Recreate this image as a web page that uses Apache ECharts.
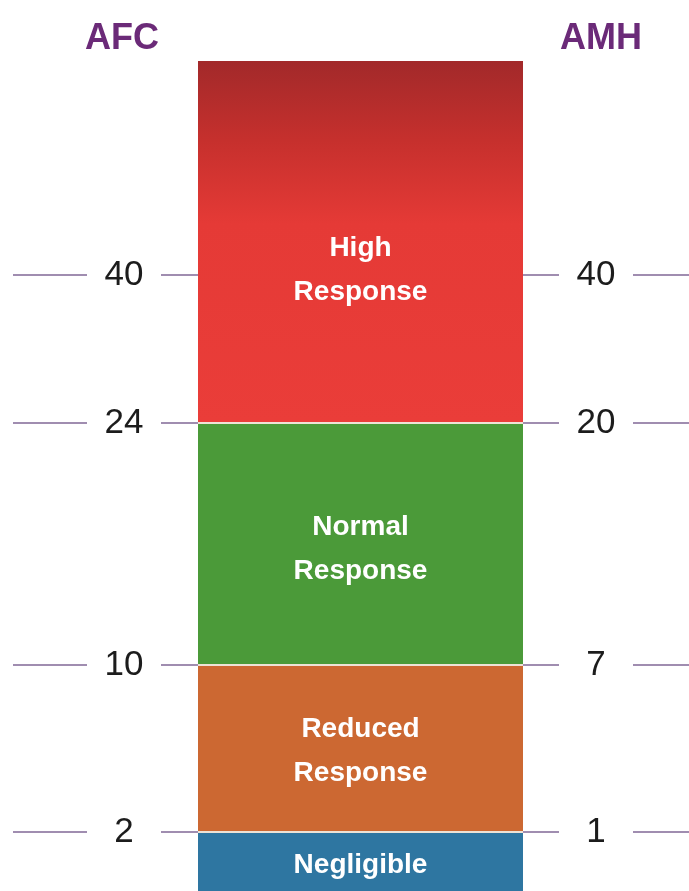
<!DOCTYPE html>
<html>
<head>
<meta charset="utf-8">
<style>
  html, body { margin: 0; padding: 0; background: #ffffff; }
  #chart { width: 689px; height: 891px; }
</style>
<script src="https://cdn.jsdelivr.net/npm/echarts@6/dist/echarts.min.js"></script>
</head>
<body>
<div id="chart"></div>
<script>
// Response bands, bottom to top (relative height on a 0-100 scale)
const bandNames = ['Negligible', 'Reduced\nResponse', 'Normal\nResponse', 'High\nResponse'];
const bandHeights = [7.1, 20.1, 29.2, 43.6];
const bandColors = ['#2e76a1', '#cc6832', '#4b9a39', '#e83b37'];

// Cut-off markers: AFC (left scale) and AMH (right scale), bottom to top
const afcLabels = ['2', '10', '24', '40'];
const amhLabels = ['1', '7', '20', '40'];
// Position of the upper "40" marker on the band scale
const upperMarkerPos = 74.2;

// Marker positions: the three band boundaries plus the upper marker
const boundaries = [];
let acc = 0;
for (let i = 0; i < bandHeights.length - 1; i++) {
  acc += bandHeights[i];
  boundaries.push(Math.round(acc * 100) / 100);
}
const markerPos = boundaries.concat([upperMarkerPos]);

const tickColor = '#a08db0';
const numberFont = "'Liberation Sans', Arial, sans-serif";

function markerAxis(side, labels, tickLen, margin) {
  return {
    type: 'value',
    position: side,
    min: 0,
    max: 100,
    axisLine: { show: false },
    splitLine: { show: false },
    axisTick: {
      show: true,
      customValues: markerPos,
      length: tickLen,
      lineStyle: { color: tickColor, width: 2 }
    },
    axisLabel: {
      show: true,
      customValues: markerPos,
      margin: margin,
      align: 'center',
      verticalAlign: 'middle',
      width: 46,
      padding: [2, 14],
      backgroundColor: '#ffffff',
      color: '#1c1c1c',
      fontSize: 35,
      fontFamily: numberFont,
      formatter: function (v) {
        const i = markerPos.findIndex(p => Math.abs(p - v) < 1e-6);
        return i >= 0 ? labels[i] : '';
      }
    }
  };
}

// Per-band label offsets (px) inside the bar
const labelOffsets = [[0, 4], [0, 3], [0, 5], [0, 28]];

const series = bandNames.map((name, i) => {
  let color = bandColors[i];
  if (i === bandNames.length - 1) {
    color = new echarts.graphic.LinearGradient(0, 0, 0, 1, [
      { offset: 0, color: '#a2292a' },
      { offset: 0.22, color: '#c6302d' },
      { offset: 0.45, color: '#e53a36' },
      { offset: 1, color: '#ea3d39' }
    ]);
  }
  const s = {
    name: name,
    type: 'bar',
    stack: 'bands',
    barWidth: '100%',
    data: [bandHeights[i]],
    itemStyle: { color: color },
    label: {
      show: true,
      position: 'inside',
      offset: labelOffsets[i],
      formatter: name,
      color: '#ffffff',
      fontSize: 28,
      fontWeight: 'bold',
      lineHeight: 44,
      fontFamily: numberFont
    },
    emphasis: { disabled: true },
    animation: false
  };
  // Thin light separators between stacked bands
  if (i === bandNames.length - 1) {
    s.markLine = {
      silent: true,
      symbol: 'none',
      label: { show: false },
      lineStyle: { color: '#eee3d6', width: 2, type: 'solid' },
      data: boundaries.map(b => ({ yAxis: b })),
      animation: false
    };
  }
  return s;
});

const chart = echarts.init(document.getElementById('chart'), null, { renderer: 'canvas' });
chart.setOption({
  animation: false,
  backgroundColor: '#ffffff',
  title: [
    {
      text: 'AFC', left: 117, top: 16, textAlign: 'center',
      textStyle: { color: '#6b2a78', fontSize: 36, fontWeight: 'bold', fontFamily: numberFont }
    },
    {
      text: 'AMH', left: 596, top: 16, textAlign: 'center',
      textStyle: { color: '#6b2a78', fontSize: 36, fontWeight: 'bold', fontFamily: numberFont }
    }
  ],
  grid: { left: 198, right: 166, top: 61, bottom: 0, containLabel: false },
  xAxis: {
    type: 'category',
    data: ['Ovarian response'],
    show: false
  },
  yAxis: [
    markerAxis('left', afcLabels, 185, 74),
    markerAxis('right', amhLabels, 166, 73)
  ],
  series: series
});
</script>
</body>
</html>
